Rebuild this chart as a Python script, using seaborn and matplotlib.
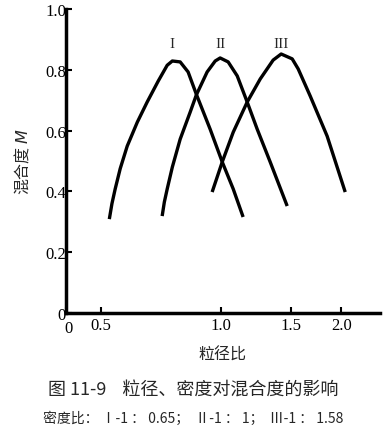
import numpy as np
import pandas as pd
import matplotlib
matplotlib.use("Agg")
import matplotlib.pyplot as plt
import matplotlib.transforms as mtransforms
import seaborn as sns

# ===================== DATA =====================
# particle size ratio (x) and mixing degree M (y)
x_I = [0.524, 0.532, 0.542, 0.558, 0.581, 0.616, 0.652, 0.695, 0.732, 0.754, 0.789, 0.826, 0.866, 0.938, 1.006, 1.072, 1.135]
y_I = [0.309, 0.360, 0.408, 0.475, 0.549, 0.628, 0.694, 0.763, 0.815, 0.829, 0.826, 0.793, 0.720, 0.605, 0.497, 0.408, 0.316]

x_II = [0.711, 0.720, 0.732, 0.754, 0.789, 0.836, 0.866, 0.922, 0.966, 0.994, 1.041, 1.097, 1.162, 1.231, 1.327, 1.464]
y_II = [0.319, 0.365, 0.408, 0.480, 0.572, 0.661, 0.717, 0.793, 0.829, 0.839, 0.826, 0.780, 0.694, 0.605, 0.497, 0.352]

x_III = [0.949, 1.006, 1.072, 1.162, 1.253, 1.350, 1.414, 1.507, 1.560, 1.672, 1.844, 2.047]
y_III = [0.398, 0.497, 0.595, 0.694, 0.770, 0.832, 0.852, 0.836, 0.803, 0.714, 0.582, 0.398]

curve_names = ["I", "II", "III"]
peak_x = [0.754, 0.994, 1.414]

x_ticks = [0.5, 1.0, 1.5, 2.0]
x_tick_labels = ["0.5", "1.0", "1.5", "2.0"]
y_ticks = [0, 0.2, 0.4, 0.6, 0.8, 1.0]
y_tick_labels = ["0", "0.2", "0.4", "0.6", "0.8", "1.0"]

df = pd.concat([
    pd.DataFrame({"x": x_I, "y": y_I, "curve": "I"}),
    pd.DataFrame({"x": x_II, "y": y_II, "curve": "II"}),
    pd.DataFrame({"x": x_III, "y": y_III, "curve": "III"}),
])

# ===================== STYLE =====================
sns.set_style("ticks")
plt.rcParams["font.family"] = ["Liberation Serif", "Noto Sans CJK SC", "DejaVu Sans"]
cjk = ["Noto Sans CJK SC", "DejaVu Sans"]

# ===================== PLOT =====================
fig = plt.figure(figsize=(3.86, 4.35), dpi=100)
ax = fig.add_axes([0.171, 0.278, 0.813, 0.699])

sns.lineplot(data=df, x="x", y="y", hue="curve", units="curve", estimator=None,
             sort=False, palette=["black"] * 3, linewidth=2.4, legend=False, ax=ax)
for line in ax.lines:
    line.set_solid_joinstyle("round")
    line.set_solid_capstyle("butt")

ax.set_xscale("log", base=2)
x_left = 0.408
ax.set_xlim(x_left, 2.5)
ax.set_ylim(0, 1.0)

ax.set_xticks([x_left] + x_ticks)
ax.set_xticklabels(["0"] + x_tick_labels)
ax.xaxis.set_minor_locator(matplotlib.ticker.NullLocator())
ax.set_yticks(y_ticks)
ax.set_yticklabels(y_tick_labels)
ax.tick_params(direction="in", length=4, width=1.5, labelsize=12, pad=3, colors="black")
ax.tick_params(axis="y", pad=0)

# nudge the x "0" away from the y "0"
zero_lab = ax.get_xticklabels()[0]
zero_lab.set_transform(zero_lab.get_transform()
                       + mtransforms.ScaledTranslation(2 / 72, -2 / 72, fig.dpi_scale_trans))

sns.despine(ax=ax, top=True, right=True)
for s in ["left", "bottom"]:
    ax.spines[s].set_linewidth(2.5)
    ax.spines[s].set_color("black")

ax.set_xlabel("粒径比", family=cjk, fontsize=11.5, labelpad=7)
ax.set_ylabel("混合度 $M$", family=cjk, fontsize=11.5, labelpad=9)

for name, px in zip(curve_names, peak_x):
    ax.text(px, 0.888, name, ha="center", va="center", fontsize=11)

fig.text(0.5, 0.103, "图 11-9    粒径、密度对混合度的影响", ha="center", va="center",
         family=cjk, fontsize=13)
fig.text(0.5, 0.038, "密度比： Ⅰ-1 ： 0.65；  Ⅱ-1 ： 1；  Ⅲ-1 ： 1.58", ha="center", va="center",
         family=cjk, fontsize=10)

plt.savefig("out.png", dpi=100)
plt.close()
